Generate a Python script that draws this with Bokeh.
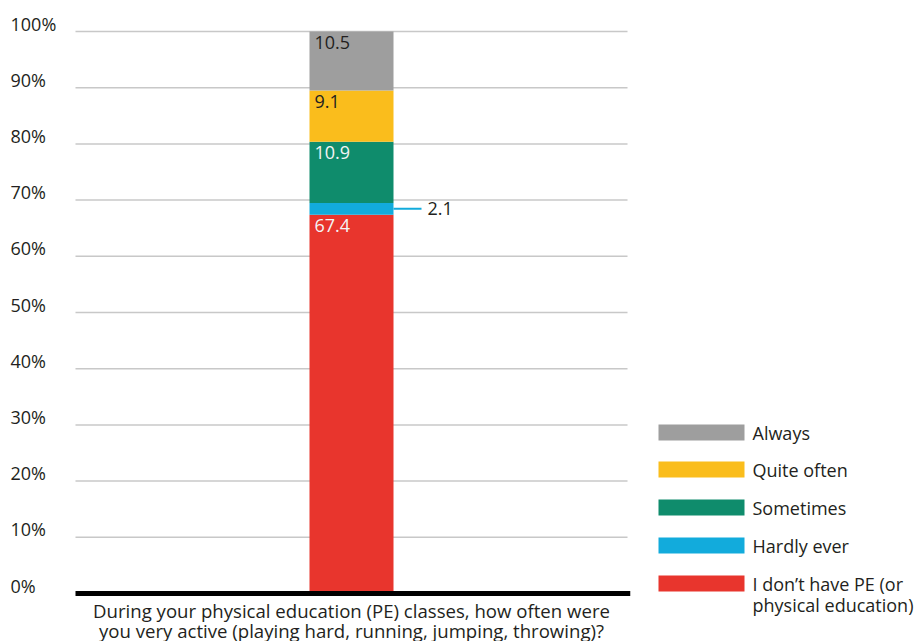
from bokeh.plotting import figure
from bokeh.models import Range1d, ColumnDataSource
from bokeh.core.properties import value
from bokeh.embed import file_html
from bokeh.resources import INLINE

# ---- data ----
categories = ["I don\u2019t have PE (or\nphysical education)", "Hardly ever", "Sometimes", "Quite often", "Always"]
values = [67.4, 2.1, 10.9, 9.1, 10.5]
colors = ["#e8352d", "#12abdc", "#0f8c6c", "#fabd1c", "#9e9e9e"]
label_colors = ["#f4f4f4", "#231f20", "#f4f4f4", "#231f20", "#231f20"]
y_ticks = [0, 10, 20, 30, 40, 50, 60, 70, 80, 90, 100]
y_tick_labels = [f"{t}%" for t in y_ticks]
x_label = "During your physical education (PE) classes, how often were\nyou very active (playing hard, running, jumping, throwing)?"

FONT = value("Open Sans")
FS = "18px"

# ---- layout helpers (reference pixel -> data) ----
PX = 5.62          # px per percent
XS = 552.0         # px per unit x
def ydat(ry): return (593 - ry) / PX
def xdat(rx): return (rx - 75) / XS

W, H = 921, 641
p = figure(width=W, height=H, output_backend="svg", toolbar_location=None,
           x_range=Range1d(xdat(0), xdat(W)), y_range=Range1d(ydat(H), ydat(0)),
           min_border=0, outline_line_color=None)
p.axis.visible = False
p.grid.visible = False
p.background_fill_color = "white"
p.border_fill_color = "white"

# gridlines
grid_y = [t for t in y_ticks if t > 0]
p.segment(x0=[0] * len(grid_y), x1=[1] * len(grid_y), y0=grid_y, y1=grid_y,
          line_color="#c8c8c8", line_width=1.5)

# stacked bar
bar_x = 0.5
bar_w = 84 / XS
bottoms, tops = [], []
acc = 0.0
for v in values:
    bottoms.append(acc)
    acc += v
    tops.append(acc)
src = ColumnDataSource(dict(x=[bar_x] * len(values), bottom=bottoms, top=tops, color=colors))
p.vbar(x="x", width=bar_w, bottom="bottom", top="top", fill_color="color", line_color=None, source=src)

# x axis line
p.segment(x0=[0], x1=[1.005], y0=[0], y1=[0], line_color="black", line_width=5)

# in-bar labels (all but the small one)
lab_idx = [i for i, v in enumerate(values) if v >= 5]
p.text(x=[bar_x - bar_w / 2] * len(lab_idx), y=[tops[i] for i in lab_idx],
       text=[f"{values[i]:.1f}" for i in lab_idx],
       text_color=[label_colors[i] for i in lab_idx],
       x_offset=5, y_offset=4, text_baseline="top", text_align="left",
       text_font=FONT, text_font_size=FS)

# small segment callout
small = [i for i, v in enumerate(values) if v < 5]
for i in small:
    yc = (bottoms[i] + tops[i]) / 2
    p.segment(x0=[bar_x + bar_w / 2], x1=[bar_x + bar_w / 2 + 28 / XS], y0=[yc], y1=[yc],
              line_color=colors[i], line_width=2)
    p.text(x=[bar_x + bar_w / 2 + 34 / XS], y=[yc], text=[f"{values[i]:.1f}"],
           text_color="#231f20", text_baseline="middle", text_align="left",
           text_font=FONT, text_font_size=FS)

# y tick labels
p.text(x=[xdat(10)] * len(y_ticks), y=y_ticks, text=y_tick_labels,
       text_color="#231f20", text_baseline="middle", text_align="left",
       y_offset=-8, text_font=FONT, text_font_size=FS)

# x label
p.text(x=[bar_x], y=[ydat(597)], text=[x_label], text_color="#231f20",
       text_baseline="top", text_align="center", text_line_height=0.83,
       text_font=FONT, text_font_size="18.6px")

# legend (top = last series)
leg_centers = [583, 545, 507, 469, 432]
p.rect(x=[xdat(701)] * len(values), y=[ydat(c) for c in leg_centers],
       width=86 / XS, height=16 / PX, fill_color=colors, line_color=None)
p.text(x=[xdat(752)] * len(values), y=[ydat(c) for c in leg_centers], text=categories,
       text_color="#231f20", text_baseline="top", text_align="left", y_offset=-12,
       text_line_height=0.9, text_font=FONT, text_font_size=FS)

open("out.html", "w").write(file_html(p, INLINE))
